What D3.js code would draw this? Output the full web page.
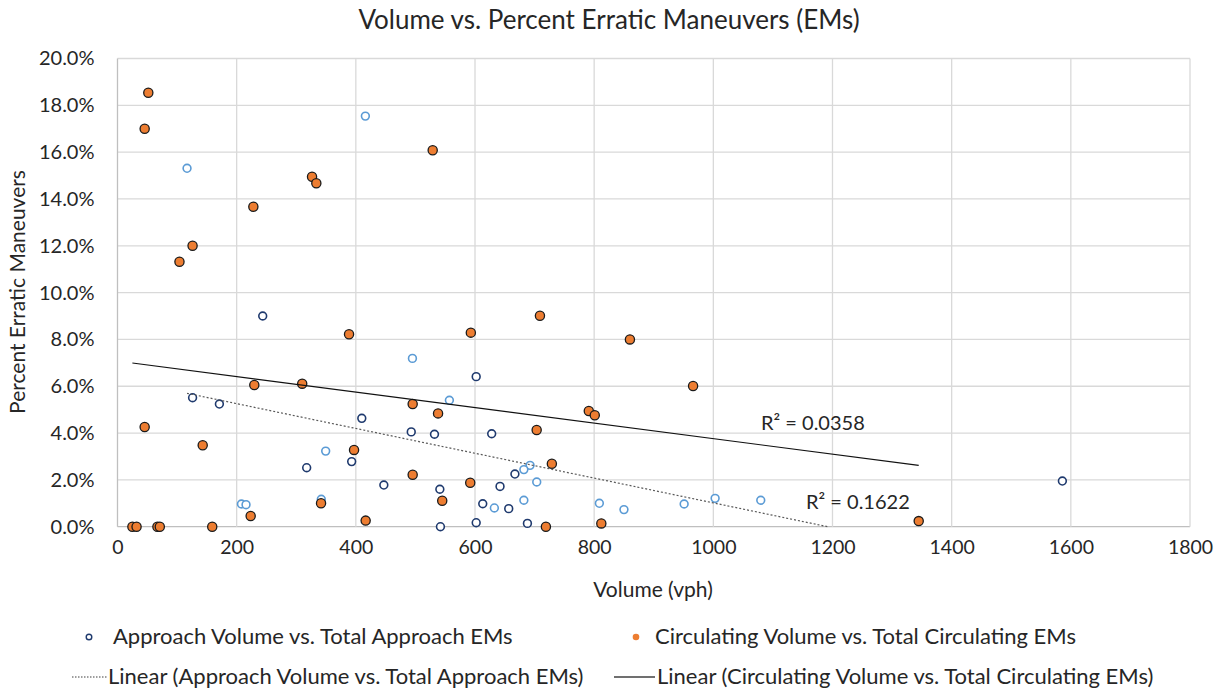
<!DOCTYPE html>
<html><head><meta charset="utf-8">
<script src="https://cdn.jsdelivr.net/npm/d3@7"></script>
<style>body{margin:0;background:#fff}svg{display:block}text{font-family:Lato,"Open Sans",sans-serif;fill:#262626}</style>
</head><body><svg id="c" width="1225" height="690"></svg>
<script>
// ---- data ----
const circVol = [51.7,45.6,126,104,228,326.5,333.7,529,388.6,229.6,310,495.4,538,45.6,143,397,495.4,545,341.6,223.5,416.5,25,32,67,71,159,709,593,860,966,791,801,703.5,729,592,719,812,1344.7];
const circPct = [18.54,17.0,12.0,11.32,13.67,14.95,14.67,16.08,8.22,6.05,6.11,5.24,4.84,4.26,3.48,3.28,2.22,1.11,1.0,0.46,0.26,0,0,0,0,0,9.01,8.29,8.0,6.01,4.94,4.76,4.13,2.69,1.88,0,0.14,0.24];
const apprVol = [116.7,416,243.7,495,126,171,410,493,532,349.4,393,317.5,447,541,208,215.7,342,542,602,557,628,692.4,682,667,642,703.6,613,632.5,656.6,682,602,688,808.7,850,951,1003,1079.6,1585.8];
const apprPct = [15.31,17.54,9.0,7.19,5.51,5.24,4.63,4.05,3.95,3.23,2.78,2.52,1.78,1.6,0.97,0.94,1.17,0,6.41,5.4,3.97,2.62,2.44,2.25,1.72,1.91,0.98,0.8,0.77,1.13,0.17,0.14,1.0,0.73,0.97,1.21,1.13,1.95];
const apprSet = ["B","B","A","B","A","A","A","A","A","B","A","A","A","A","B","B","B","A","A","B","A","B","B","A","A","B","A","B","A","B","A","A","B","B","B","B","B","A"];
const xTicks = [0,200,400,600,800,1000,1200,1400,1600,1800];
const yTicks = [0,2,4,6,8,10,12,14,16,18,20];
const rSquared = {approach:"0.1622", circulating:"0.0358"};
const title = "Volume vs. Percent Erratic Maneuvers (EMs)";
const xTitle = "Volume (vph)";
const yTitle = "Percent Erratic Maneuvers";
const legendNames = ["Approach Volume vs. Total Approach EMs","Circulating Volume vs. Total Circulating EMs","Linear (Approach Volume vs. Total Approach EMs)","Linear (Circulating Volume vs. Total Circulating EMs)"];

// ---- layout ----
const svg = d3.select("#c");
const L=117.5,R=1190,T=58.5,B=526.7;
const x = d3.scaleLinear().domain([0,1800]).range([L,R]);
const y = d3.scaleLinear().domain([0,20]).range([B,T]);
const apprColor = d3.scaleOrdinal().domain(["A","B"]).range(["#1f3a6e","#5b9bd5"]);

svg.append("text").attr("x",609).attr("y",29).attr("text-anchor","middle").style("font-size","26px").text(title);

// grid
svg.append("g").selectAll("line").data(yTicks).join("line")
  .attr("x1",L).attr("x2",R).attr("y1",d=>y(d)).attr("y2",d=>y(d))
  .attr("stroke",d=>d===0?"#bfbfbf":"#d9d9d9").attr("stroke-width",1.3);
svg.append("g").selectAll("line").data(xTicks).join("line")
  .attr("x1",d=>x(d)).attr("x2",d=>x(d)).attr("y1",T).attr("y2",B)
  .attr("stroke",d=>d===0?"#bfbfbf":"#d9d9d9").attr("stroke-width",1.3);

// axes labels via d3 axes
const ax = svg.append("g").attr("transform",`translate(0,${B})`)
  .call(d3.axisBottom(x).tickValues(xTicks).tickSize(0).tickPadding(13).tickFormat(d3.format("d")));
ax.select(".domain").remove();
ax.selectAll("text").style("font-size","19.5px").style("font-family","Lato").attr("fill","#262626");
const ay = svg.append("g").attr("transform",`translate(${L},0)`)
  .call(d3.axisLeft(y).tickValues(yTicks).tickSize(0).tickPadding(23).tickFormat(d=>d.toFixed(1)+"%"));
ay.select(".domain").remove();
ay.selectAll("text").style("font-size","20px").style("font-family","Lato").attr("fill","#262626");

svg.append("text").attr("x",653).attr("y",597).attr("text-anchor","middle").style("font-size","21px").text(xTitle);
svg.append("text").attr("transform","translate(25,292) rotate(-90)").attr("text-anchor","middle").style("font-size","21px").text(yTitle);

// regression
function linreg(xs,ys){const n=xs.length,mx=d3.mean(xs),my=d3.mean(ys);let sxy=0,sxx=0;for(let i=0;i<n;i++){sxy+=(xs[i]-mx)*(ys[i]-my);sxx+=(xs[i]-mx)**2;}const b=sxy/sxx;return {a:my-b*mx,b};}
function trendPts(xs,ys){const r=linreg(xs,ys);let x0=d3.min(xs),x1=d3.max(xs);const f=v=>r.a+r.b*v;
  if(f(x1)<0) x1=-r.a/r.b; return [[x0,f(x0)],[x1,f(x1)]];}
const line = d3.line().x(d=>x(d[0])).y(d=>y(d[1]));

// points: approach
const apprData = apprVol.map((v,i)=>({v,p:apprPct[i],s:apprSet[i]}));
svg.append("g").selectAll("circle").data(apprData).join("circle")
  .attr("cx",d=>x(d.v)).attr("cy",d=>y(d.p)).attr("r",3.9)
  .attr("fill","#fff").attr("stroke",d=>apprColor(d.s)).attr("stroke-width",1.6);
const circData = circVol.map((v,i)=>({v,p:circPct[i]}));
svg.append("g").selectAll("circle").data(circData).join("circle")
  .attr("cx",d=>x(d.v)).attr("cy",d=>y(d.p)).attr("r",4.6)
  .attr("fill","#ed7d31").attr("stroke","#1a1a1a").attr("stroke-width",1.3);

svg.append("path").attr("d",line(trendPts(apprVol,apprPct))).attr("fill","none").attr("stroke","#595959").attr("stroke-width",1.2).attr("stroke-dasharray","2,2");
svg.append("path").attr("d",line(trendPts(circVol,circPct))).attr("fill","none").attr("stroke","#111").attr("stroke-width",1.1);

svg.append("text").attr("x",761).attr("y",430).style("font-size","20px").text("R² = "+rSquared.circulating);
svg.append("text").attr("x",806).attr("y",509).style("font-size","20px").text("R² = "+rSquared.approach);

// legend
const lg = svg.append("g");
lg.append("circle").attr("cx",89).attr("cy",637).attr("r",2.8).attr("fill","#fff").attr("stroke","#1f3a6e").attr("stroke-width",1.4);
lg.append("text").attr("x",113).attr("y",644).style("font-size","22px").text(legendNames[0]);
lg.append("circle").attr("cx",636).attr("cy",637).attr("r",3.3).attr("fill","#ed7d31");
lg.append("text").attr("x",655).attr("y",644).style("font-size","22px").text(legendNames[1]);
lg.append("line").attr("x1",72).attr("x2",107).attr("y1",677).attr("y2",677).attr("stroke","#7f7f7f").attr("stroke-width",1.3).attr("stroke-dasharray","1.5,1.5");
lg.append("text").attr("x",108).attr("y",684).style("font-size","22px").text(legendNames[2]);
lg.append("line").attr("x1",614).attr("x2",655).attr("y1",677).attr("y2",677).attr("stroke","#404040").attr("stroke-width",1.4);
lg.append("text").attr("x",657).attr("y",684).style("font-size","22px").text(legendNames[3]);
</script></body></html>
